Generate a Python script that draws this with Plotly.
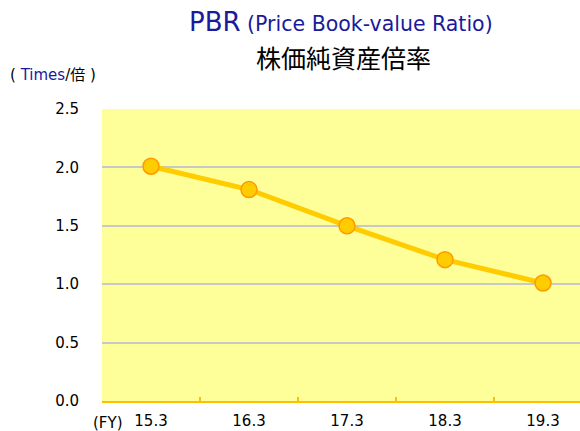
import plotly.graph_objects as go

categories = ["15.3", "16.3", "17.3", "18.3", "19.3"]
pbr_values = [2.01, 1.81, 1.50, 1.21, 1.01]
y_ticks = [0.0, 0.5, 1.0, 1.5, 2.0, 2.5]
y_tick_labels = ["0.0", "0.5", "1.0", "1.5", "2.0", "2.5"]

FONT = "DejaVu Sans, Noto Sans CJK JP"
CJK = "Noto Sans CJK JP"
BLUE = "#1a1a9c"

fig = go.Figure()
fig.add_trace(go.Scatter(
    x=categories, y=pbr_values, mode="lines+markers",
    line=dict(color="#FFCC00", width=5),
    marker=dict(size=16, color="#FFCC00", line=dict(color="#FF9900", width=1.5)),
    showlegend=False, hoverinfo="skip",
))

plot_w = 580 - 102
plot_h = 401 - 109
fig.update_layout(
    width=580, height=431,
    margin=dict(l=102, r=0, t=109, b=30),
    paper_bgcolor="white",
    plot_bgcolor="#FFFF99",
    font=dict(family=FONT, color="black"),
    xaxis=dict(
        type="category", categoryorder="array", categoryarray=categories,
        range=[-0.5, -0.5 + plot_w / 98.0],
        tickson="boundaries", ticks="inside", ticklen=4, tickwidth=1.5, tickcolor="#FFC000",
        showline=True, linecolor="#FFC000", linewidth=2,
        showgrid=False, zeroline=False,
        tickfont=dict(size=15, color="black", family=FONT),
        ticklabelstandoff=5,
        fixedrange=True,
    ),
    yaxis=dict(
        range=[0, 2.5], tickmode="array", tickvals=y_ticks, ticktext=y_tick_labels,
        showgrid=True, gridcolor="#C8C8C8", gridwidth=1.5,
        zeroline=False, showline=False, ticks="",
        tickfont=dict(size=15, color="black", family=FONT),
        ticklabelstandoff=22,
        fixedrange=True,
    ),
    annotations=[
        dict(xref="paper", yref="paper", x=(341 - 102) / plot_w, y=1 + (109 - 22) / plot_h,
             xanchor="center", yanchor="middle", showarrow=False,
             text=f"<span style='font-size:26px;color:{BLUE}'>PBR</span>"
                  f"<span style='font-size:20.5px;color:{BLUE}'> (Price Book-value Ratio)</span>",
             font=dict(family=FONT)),
        dict(xref="paper", yref="paper", x=(343 - 102) / plot_w, y=1 + (109 - 57) / plot_h,
             xanchor="center", yanchor="middle", showarrow=False,
             text="株価純資産倍率", font=dict(family=CJK, size=25, color="black")),
        dict(xref="paper", yref="paper", x=-(102 - 8) / plot_w, y=1 + (109 - 75) / plot_h,
             xanchor="left", yanchor="middle", showarrow=False,
             text=f"( <span style='color:{BLUE}'>Times</span>/倍 )",
             font=dict(family=FONT, size=15, color="black")),
        dict(xref="paper", yref="paper", x=-(102 - 91) / plot_w, y=-(423 - 401) / plot_h,
             xanchor="left", yanchor="middle", showarrow=False,
             text="(FY)", font=dict(family=FONT, size=15, color="black")),
    ],
)

fig.write_html("out.html", config={"displayModeBar": False},
               post_script="document.body.style.margin='0px';")
